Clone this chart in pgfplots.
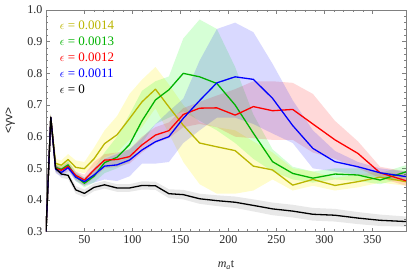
\documentclass[border=0pt]{standalone}
\usepackage{pgfplots}
\usepackage{pgfplotstable}
\pgfplotsset{compat=1.18}
\usepgfplotslibrary{fillbetween}
\usepackage{fontspec}
\setmainfont{Liberation Serif}
\newfontfamily\sansf{Liberation Sans}
\definecolor{cY}{rgb}{0.73,0.71,0.0}
\definecolor{cG}{rgb}{0.0,0.70,0.0}
\definecolor{cR}{rgb}{1.0,0.0,0.0}
\definecolor{cB}{rgb}{0.0,0.0,1.0}
\definecolor{frame}{gray}{0.5}

\pgfplotstableread{
x y lo hi
10 0.300 0.290 0.310
15 0.661 0.650 0.672
20 0.500 0.488 0.512
26 0.482 0.470 0.494
33 0.478 0.466 0.490
41 0.432 0.420 0.444
50 0.421 0.409 0.433
60 0.440 0.428 0.452
71 0.448 0.436 0.460
84 0.438 0.426 0.450
97 0.438 0.426 0.450
110 0.446 0.433 0.459
124 0.445 0.432 0.458
138 0.420 0.406 0.434
153 0.417 0.402 0.432
170 0.404 0.388 0.420
188 0.398 0.381 0.415
207 0.393 0.375 0.411
226 0.383 0.364 0.402
246 0.372 0.352 0.392
267 0.365 0.345 0.385
288 0.355 0.335 0.375
311 0.352 0.332 0.372
335 0.343 0.324 0.362
358 0.336 0.318 0.354
385 0.332 0.316 0.348
}\tK

\pgfplotstableread{
x y lo hi
10 0.300 0.290 0.310
15 0.661 0.650 0.672
20 0.516 0.505 0.530
26 0.510 0.500 0.525
33 0.528 0.515 0.545
41 0.503 0.490 0.525
50 0.499 0.485 0.520
60 0.530 0.505 0.565
71 0.578 0.535 0.620
84 0.606 0.550 0.665
97 0.657 0.590 0.735
110 0.710 0.630 0.780
124 0.750 0.690 0.820
138 0.694 0.610 0.765
153 0.636 0.520 0.700
170 0.580 0.450 0.645
188 0.568 0.420 0.630
207 0.556 0.420 0.620
226 0.507 0.430 0.585
246 0.495 0.465 0.550
267 0.447 0.430 0.500
288 0.465 0.445 0.490
311 0.446 0.430 0.470
335 0.458 0.440 0.480
358 0.472 0.455 0.490
385 0.458 0.445 0.480
}\tY

\pgfplotstableread{
x y lo hi
10 0.300 0.290 0.310
15 0.661 0.650 0.672
20 0.503 0.490 0.515
26 0.497 0.485 0.510
33 0.511 0.500 0.525
41 0.474 0.460 0.490
50 0.453 0.440 0.470
60 0.475 0.455 0.500
71 0.518 0.485 0.550
84 0.535 0.500 0.600
97 0.575 0.520 0.670
110 0.650 0.580 0.745
124 0.716 0.640 0.775
138 0.748 0.660 0.790
153 0.800 0.680 0.910
170 0.789 0.650 0.970
188 0.768 0.620 0.940
207 0.700 0.580 0.820
226 0.611 0.530 0.670
246 0.521 0.490 0.560
267 0.484 0.465 0.505
288 0.469 0.455 0.490
311 0.482 0.465 0.500
335 0.479 0.460 0.500
358 0.463 0.450 0.485
385 0.489 0.470 0.510
}\tG

\pgfplotstableread{
x y lo hi
10 0.300 0.290 0.310
15 0.661 0.650 0.672
20 0.500 0.490 0.512
26 0.494 0.482 0.506
33 0.506 0.494 0.520
41 0.478 0.465 0.490
50 0.463 0.445 0.480
60 0.495 0.470 0.520
71 0.526 0.500 0.545
84 0.528 0.505 0.550
97 0.537 0.515 0.560
110 0.574 0.550 0.600
124 0.605 0.580 0.630
138 0.619 0.595 0.645
153 0.670 0.630 0.690
170 0.690 0.640 0.710
188 0.691 0.630 0.730
207 0.668 0.600 0.750
226 0.695 0.595 0.775
246 0.682 0.590 0.775
267 0.686 0.590 0.770
288 0.640 0.550 0.735
311 0.590 0.530 0.650
335 0.547 0.500 0.585
358 0.486 0.470 0.505
385 0.461 0.445 0.490
}\tR

\pgfplotstableread{
x y lo hi
10 0.300 0.290 0.310
15 0.661 0.650 0.672
20 0.497 0.485 0.510
26 0.487 0.475 0.500
33 0.502 0.490 0.515
41 0.472 0.460 0.485
50 0.458 0.445 0.470
60 0.479 0.455 0.500
71 0.507 0.465 0.530
84 0.511 0.460 0.545
97 0.526 0.475 0.560
110 0.558 0.515 0.595
124 0.584 0.515 0.640
138 0.600 0.520 0.680
153 0.658 0.580 0.720
170 0.714 0.620 0.840
188 0.770 0.660 0.940
207 0.789 0.660 0.960
226 0.781 0.640 0.930
246 0.721 0.610 0.830
267 0.635 0.580 0.715
288 0.563 0.500 0.620
311 0.521 0.490 0.555
335 0.505 0.480 0.520
358 0.486 0.470 0.500
385 0.474 0.460 0.490
}\tB

\begin{document}
\begin{tikzpicture}
\begin{axis}[
  scale only axis,
  width=360pt, height=221.7pt,
  xmin=10, xmax=385,
  ymin=0.3, ymax=1.0,
  xtick={50,100,...,350},
  ytick={0.3,0.4,...,1.0},
  minor x tick num=4,
  minor y tick num=4,
  tick align=inside,
  tick pos=both,
  xticklabel pos=lower,
  yticklabel pos=left,
  major tick length=4pt,
  minor tick length=2.3pt,
  axis line style={frame, line width=0.5pt},
  every tick/.style={frame, line width=0.5pt},
  tick label style={font=\fontsize{12}{14}\selectfont, text=black!85},
  /pgf/number format/assume math mode=true,
  yticklabel style={/pgf/number format/.cd, fixed, fixed zerofill, precision=1},
  xticklabel style={/pgf/number format/.cd, fixed},
  scaled y ticks=false,
  xlabel={\textit{m}\textsubscript{\textit{a}}t},
  ylabel={{\sansf <γv>}},
  label style={font=\fontsize{12}{14}\selectfont, text=black!85},
  xlabel style={at={(axis description cs:0.5,-0.15)}, anchor=center},
  ylabel style={at={(axis description cs:-0.1,0.5)}, anchor=center},
  clip=true,
]
% bands
\addplot[name path=Khi, draw=none, forget plot] table[x=x,y=hi]{\tK};
\addplot[name path=Klo, draw=none, forget plot] table[x=x,y=lo]{\tK};
\addplot[fill=black, fill opacity=0.09, draw=none, forget plot] fill between[of=Khi and Klo];

\addplot[name path=Yhi, draw=none, forget plot] table[x=x,y=hi]{\tY};
\addplot[name path=Ylo, draw=none, forget plot] table[x=x,y=lo]{\tY};
\addplot[fill=yellow, fill opacity=0.2, draw=none, forget plot] fill between[of=Yhi and Ylo];

\addplot[name path=Ghi, draw=none, forget plot] table[x=x,y=hi]{\tG};
\addplot[name path=Glo, draw=none, forget plot] table[x=x,y=lo]{\tG};
\addplot[fill=green, fill opacity=0.16, draw=none, forget plot] fill between[of=Ghi and Glo];

\addplot[name path=Rhi, draw=none, forget plot] table[x=x,y=hi]{\tR};
\addplot[name path=Rlo, draw=none, forget plot] table[x=x,y=lo]{\tR};
\addplot[fill=red, fill opacity=0.15, draw=none, forget plot] fill between[of=Rhi and Rlo];

\addplot[name path=Bhi, draw=none, forget plot] table[x=x,y=hi]{\tB};
\addplot[name path=Blo, draw=none, forget plot] table[x=x,y=lo]{\tB};
\addplot[fill=blue, fill opacity=0.15, draw=none, forget plot] fill between[of=Bhi and Blo];

% lines
\addplot[cY, line width=1.3pt, line join=round] table[x=x,y=y]{\tY};
\addplot[cG, line width=1.3pt, line join=round] table[x=x,y=y]{\tG};
\addplot[cR, line width=1.3pt, line join=round] table[x=x,y=y]{\tR};
\addplot[cB, line width=1.3pt, line join=round] table[x=x,y=y]{\tB};
\addplot[black, line width=1.3pt, line join=round] table[x=x,y=y]{\tK};

% legend text
\node[anchor=west, text=cY, font=\fontsize{13}{15}\selectfont, inner sep=0pt] at (rel axis cs:0.038,0.932) {$\epsilon$ = 0.0014};
\node[anchor=west, text=cG, font=\fontsize{13}{15}\selectfont, inner sep=0pt] at (rel axis cs:0.038,0.857) {$\epsilon$ = 0.0013};
\node[anchor=west, text=cR, font=\fontsize{13}{15}\selectfont, inner sep=0pt] at (rel axis cs:0.038,0.785) {$\epsilon$ = 0.0012};
\node[anchor=west, text=cB, font=\fontsize{13}{15}\selectfont, inner sep=0pt] at (rel axis cs:0.038,0.714) {$\epsilon$ = 0.0011};
\node[anchor=west, text=black, font=\fontsize{13}{15}\selectfont, inner sep=0pt] at (rel axis cs:0.038,0.642) {$\epsilon$ = 0};
\end{axis}
\pgfresetboundingbox
\path[use as bounding box] ([xshift=-46pt,yshift=-45.3pt]current axis.south west) rectangle ([xshift=1pt,yshift=10pt]current axis.north east);
\end{tikzpicture}
\end{document}
